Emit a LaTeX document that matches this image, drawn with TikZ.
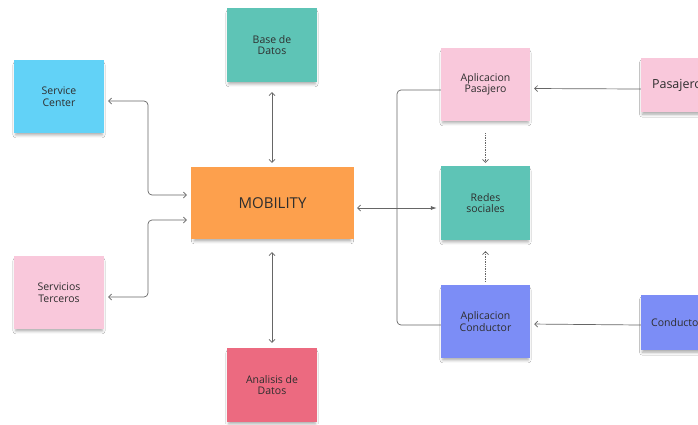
\documentclass[tikz,border=0pt]{standalone}
\usepackage{fontspec}
\setmainfont{Open Sans}
\usetikzlibrary{arrows.meta, shadows.blur}
\definecolor{notaAzul}{HTML}{62D2F7}
\definecolor{notaRosa}{HTML}{F9C8DB}
\definecolor{notaVerde}{HTML}{5EC4B6}
\definecolor{notaNaranja}{HTML}{FDA04D}
\definecolor{notaRojo}{HTML}{EC6A80}
\definecolor{notaLila}{HTML}{7C8DF6}
\definecolor{linea}{HTML}{666666}
\definecolor{texto}{HTML}{2E2E2E}

\begin{document}
\begin{tikzpicture}[x=1pt, y=-1pt,
  >={Straight Barb[length=3pt,width=6pt]},
  nota/.style={rectangle, inner sep=0pt, align=center, text=texto,
    minimum width=90pt, minimum height=73pt,
    font=\fontsize{10.5}{11.5}\selectfont,
    blur shadow={shadow xshift=0pt, shadow yshift=-3.5pt, shadow scale=0.96,
      shadow blur radius=3pt, shadow opacity=35}},
  link/.style={draw=linea, line width=0.7pt, rounded corners=4pt},
  puntos/.style={link, densely dotted}]
  % Marco
  \useasboundingbox[fill=white] (0,0) rectangle (698,424);
  % Notas
  \node[nota, fill=notaNaranja, minimum width=163pt, minimum height=72pt,
    font=\fontsize{15}{17}\selectfont] (mob) at (272.5,203) {MOBILITY};
  \node[nota, fill=notaVerde, minimum height=74pt] (db) at (272,45) {Base de\\Datos};
  \node[nota, fill=notaRojo, minimum height=74pt] (an) at (272,385) {Analisis de\\Datos};
  \node[nota, fill=notaAzul] (svc) at (59,96.5) {Service\\Center};
  \node[nota, fill=notaRosa] (ter) at (59,292.5) {Servicios\\Terceros};
  \node[nota, fill=notaRosa, minimum width=89pt] (apas) at (485.5,84.5) {Aplicacion\\Pasajero};
  \node[nota, fill=notaVerde, minimum width=89pt, minimum height=74pt] (red) at (485.5,203) {Redes\\sociales};
  \node[nota, fill=notaLila, minimum width=89pt] (acon) at (485.5,321.5) {Aplicacion\\Conductor};
  \node[nota, fill=notaRosa, minimum width=72pt, minimum height=54pt,
    font=\fontsize{12.5}{14}\selectfont] (pj) at (677,85) {Pasajero};
  \node[nota, fill=notaLila, minimum width=72pt, minimum height=55pt] (cj) at (677,322.5) {Conductor};
  % Puntos de union
  \coordinate (lbus) at (148,195);
  \coordinate (lbusb) at (148,220);
  \coordinate (rbus) at (397,208);
  % Izquierda
  \draw[link, <->, shorten <=4pt, shorten >=4pt] ([yshift=-4.5pt]svc.east) -| (lbus) -- (mob.west |- lbus);
  \draw[link, <->, shorten <=4pt, shorten >=4pt] ([yshift=-4.5pt]ter.east) -| (lbusb) -- (mob.west |- lbusb);
  % Arriba y abajo
  \draw[link, <->, shorten <=10pt, shorten >=4pt] (db.south) -- (db.south |- mob.north);
  \draw[link, <->, shorten <=13pt, shorten >=5pt] (mob.south -| db.south) -- (db.south |- an.north);
  % Derecha
  \draw[link] ([yshift=-5.5pt]apas.west) -| (rbus) |- ([yshift=-3.5pt]acon.west);
  \draw[link, ->, shorten >=3pt] (rbus) -- (mob.east |- rbus);
  \draw[link, -{Latex[length=6pt,width=4pt]}, shorten >=4pt] (rbus) -- (red.west |- rbus);
  \draw[link, ->, shorten >=4pt] ([yshift=-4pt]pj.west) -- ([yshift=-4pt]apas.east);
  \draw[link, ->, shorten >=4pt] ([yshift=-2.5pt]cj.west) -- ([yshift=-2.5pt]acon.east);
  % Redes sociales
  \draw[puntos, ->, shorten <=12pt, shorten >=3pt] (apas) -- (red);
  \draw[puntos, ->, shorten <=3pt, shorten >=11pt] (acon) -- (red);
\end{tikzpicture}
\end{document}
